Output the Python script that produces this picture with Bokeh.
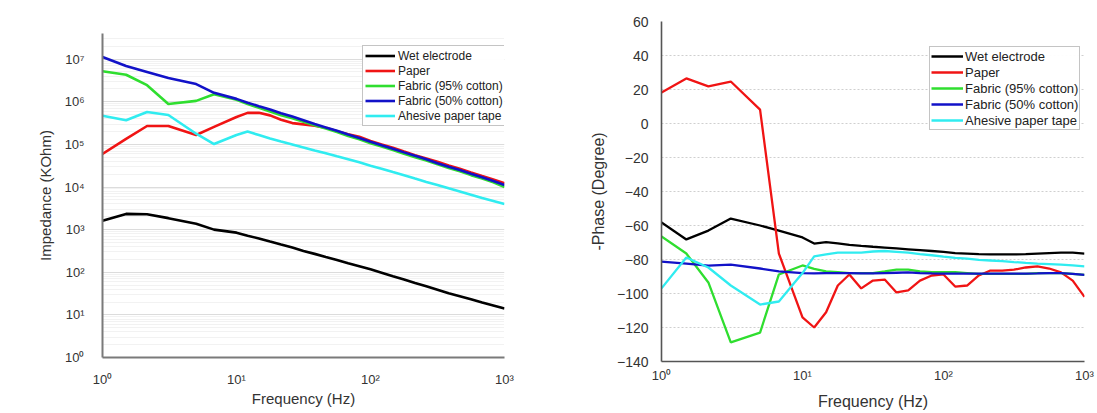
from bokeh.plotting import figure
from bokeh.layouts import row
from bokeh.models import (FixedTicker, CustomJSTickFormatter, Legend, LegendItem,
                          ColumnDataSource, Range1d)
from bokeh.embed import file_html
from bokeh.resources import INLINE

# ---------------- data ----------------
freq_hz = [1, 1.5, 2.15, 3.1, 5, 6.8, 10, 12.1, 14.7, 17.8, 21.5, 26.1, 31.6, 38.3,
           46.4, 56.2, 68.1, 82.5, 100, 121, 147, 178, 215, 261, 316, 383, 464, 562,
           681, 825, 1000]

series_names = ["Wet electrode", "Paper", "Fabric (95% cotton)",
                "Fabric (50% cotton)", "Ahesive paper tape"]

# impedance magnitude (KOhm)
imp_wet = [1620, 2340, 2290, 1860, 1380, 1000, 850, 720, 620, 525, 447, 380, 316, 270,
           229, 195, 162, 138, 117, 98, 81, 68, 56, 47, 39, 32, 27.5, 23.4, 19.5, 16.6, 14.1]
imp_paper = [6.0e4, 1.35e5, 2.7e5, 2.7e5, 1.66e5, 2.57e5, 4.4e5, 5.5e5, 5.5e5, 4.8e5,
             3.8e5, 3.16e5, 2.95e5, 2.75e5, 2.45e5, 2.04e5, 1.74e5, 1.51e5, 1.2e5, 1.0e5,
             8.3e4, 6.8e4, 5.6e4, 4.7e4, 3.9e4, 3.2e4, 2.7e4, 2.2e4, 1.82e4, 1.51e4, 1.23e4]
imp_fab95 = [5.2e6, 4.3e6, 2.45e6, 8.9e5, 1.05e6, 1.5e6, 1.12e6, 8.9e5, 7.2e5, 5.9e5,
             4.8e5, 4.1e5, 3.4e5, 2.8e5, 2.35e5, 1.95e5, 1.58e5, 1.32e5, 1.07e5, 8.9e4,
             7.4e4, 6.0e4, 5.0e4, 4.2e4, 3.4e4, 2.8e4, 2.35e4, 1.9e4, 1.58e4, 1.29e4, 1.0e4]
imp_fab50 = [1.12e7, 6.9e6, 5.0e6, 3.6e6, 2.6e6, 1.62e6, 1.17e6, 9.5e5, 7.9e5, 6.6e5,
             5.4e5, 4.5e5, 3.7e5, 3.0e5, 2.5e5, 2.1e5, 1.7e5, 1.41e5, 1.15e5, 9.5e4,
             7.9e4, 6.5e4, 5.4e4, 4.5e4, 3.6e4, 3.0e4, 2.5e4, 2.04e4, 1.7e4, 1.38e4, 1.12e4]
imp_tape = [4.7e5, 3.7e5, 5.75e5, 4.9e5, 1.78e5, 1.02e5, 1.66e5, 2.0e5, 1.66e5, 1.38e5,
            1.17e5, 1.0e5, 8.5e4, 7.2e4, 6.2e4, 5.25e4, 4.5e4, 3.8e4, 3.16e4, 2.7e4,
            2.24e4, 1.9e4, 1.58e4, 1.32e4, 1.12e4, 9.3e3, 7.9e3, 6.6e3, 5.5e3, 4.7e3, 4.0e3]

# -phase (degree)
ph_wet = [-58.2, -68.2, -63, -55.9, -60, -63, -67, -70.6, -69.8, -70.5, -71.4, -72, -72.5,
          -73, -73.5, -74, -74.5, -75, -75.5, -76.2, -76.5, -76.8, -77, -77, -77, -76.8,
          -76.5, -76.2, -76, -76, -76.5]
ph_paper = [18.2, 26.5, 21.8, 24.7, 8.2, -76.5, -114, -120, -111, -95.3, -88.8, -97, -92.4,
            -91.8, -99.4, -98.2, -92.4, -89.4, -88.8, -95.9, -95.3, -89.4, -86.5, -86.5,
            -86, -84.7, -84.1, -85.3, -87.6, -92.4, -102]
ph_fab95 = [-66.5, -76.5, -93.5, -128.8, -123, -88.8, -83.5, -85.5, -87, -87.5, -88, -88,
            -88, -87, -86, -86, -87, -87.5, -87.5, -87.5, -88, -88.5, -88.5, -88.5, -88.5,
            -88.5, -88, -88, -88, -88.5, -89]
ph_fab50 = [-81.2, -82.4, -83.6, -83, -85.3, -87, -88, -88.2, -88, -88, -88, -88.2, -88.2,
            -88, -87.8, -87.6, -88, -88.2, -88.3, -88.3, -88.3, -88.3, -88.3, -88.3, -88.3,
            -88.3, -88.2, -88, -88, -88.4, -89]
ph_tape = [-97, -78.8, -84.7, -95.3, -106.5, -104.7, -88, -78.2, -77, -76, -76, -75.9,
           -75.3, -75, -75.5, -76, -76.8, -77.5, -78.3, -79, -79.5, -80.2, -80.6, -81,
           -81.5, -82, -82.4, -82.7, -83, -83.5, -84.1]

x_ticks = [1, 10, 100, 1000]
imp_ticks = [1, 10, 100, 1e3, 1e4, 1e5, 1e6, 1e7]
phase_ticks = [-140, -120, -100, -80, -60, -40, -20, 0, 20, 40, 60]

colors = ["#000000", "#f01414", "#2fde2f", "#1212c8", "#30ecf0"]
FONT = "Liberation Sans"

sup_code = """
const sup = {"0":"\u2070","1":"\u00b9","2":"\u00b2","3":"\u00b3","4":"\u2074",
             "5":"\u2075","6":"\u2076","7":"\u2077","8":"\u2078","9":"\u2079","-":"\u207b"};
const e = Math.round(Math.log10(tick));
return "10" + String(e).split("").map(c => sup[c]).join("");
"""

src = ColumnDataSource(dict(f=freq_hz,
                            i0=imp_wet, i1=imp_paper, i2=imp_fab95, i3=imp_fab50, i4=imp_tape,
                            p0=ph_wet, p1=ph_paper, p2=ph_fab95, p3=ph_fab50, p4=ph_tape))


def style_axes(p, tick_size, title_size, axis_color, axis_width):
    for ax in (p.xaxis[0], p.yaxis[0]):
        ax.axis_line_color = axis_color
        ax.axis_line_width = axis_width
        ax.major_tick_line_color = None
        ax.minor_tick_line_color = None
        ax.major_label_text_font = FONT
        ax.major_label_text_font_size = tick_size
        ax.major_label_text_color = "#333333"
        ax.axis_label_text_font = FONT
        ax.axis_label_text_font_size = title_size
        ax.axis_label_text_font_style = "normal"
        ax.axis_label_text_color = "#333333"


# ---------------- left: impedance ----------------
p1 = figure(width=560, height=413, x_axis_type="log", y_axis_type="log",
            x_range=Range1d(1, 1000), y_range=Range1d(1, 4e7),
            output_backend="svg", toolbar_location=None,
            min_border_left=102, min_border_right=56, min_border_top=33,
            min_border_bottom=56, frame_align=False)
p1.outline_line_color = None
minor_imp = [k * 10 ** d for d in range(0, 8) for k in range(2, 10)]
p1.yaxis.ticker = FixedTicker(ticks=imp_ticks, minor_ticks=minor_imp)
p1.xaxis.ticker = FixedTicker(ticks=x_ticks)
p1.xaxis.formatter = CustomJSTickFormatter(code=sup_code)
p1.yaxis.formatter = CustomJSTickFormatter(code=sup_code)
p1.xgrid.grid_line_color = None
p1.ygrid.grid_line_color = "#dcdcdc"
p1.ygrid.minor_grid_line_color = "#e4e4e4"
p1.ygrid.minor_grid_line_dash = "1 1"
p1.xaxis.axis_label = "Frequency (Hz)"
p1.yaxis.axis_label = "Impedance (KOhm)"
style_axes(p1, "13px", "15px", "#7a7a7a", 2)
p1.xaxis.major_label_standoff = 8
p1.yaxis.major_label_standoff = 12
p1.yaxis.axis_label_standoff = 7
p1.xaxis.axis_label_standoff = 0

r1 = []
for k in range(5):
    r1.append(p1.line("f", "i%d" % k, source=src, line_color=colors[k], line_width=2.6))
leg1 = Legend(items=[LegendItem(label=series_names[k], renderers=[r1[k]]) for k in range(5)],
              location=(260, 231))
leg1.label_text_font = FONT
leg1.label_text_font_size = "12px"
leg1.label_text_color = "#222222"
leg1.glyph_width = 30
leg1.glyph_height = 15
leg1.label_height = 15
leg1.label_standoff = 3
leg1.spacing = 0
leg1.padding = 2
leg1.margin = 0
leg1.border_line_color = "#8a8a8a"
leg1.border_line_width = 1
p1.add_layout(leg1)

# ---------------- right: phase ----------------
p2 = figure(width=537, height=413, x_axis_type="log",
            x_range=Range1d(1, 1000), y_range=Range1d(-140, 60),
            output_backend="svg", toolbar_location=None,
            min_border_left=101, min_border_right=13, min_border_top=21,
            min_border_bottom=52, frame_align=False)
p2.outline_line_color = None
p2.xaxis.ticker = FixedTicker(ticks=x_ticks)
p2.xaxis.formatter = CustomJSTickFormatter(code=sup_code)
p2.yaxis.ticker = FixedTicker(ticks=phase_ticks)
p2.xgrid.grid_line_color = None
p2.ygrid.grid_line_color = "#cfcfcf"
p2.ygrid.grid_line_dash = "2 2"
p2.xaxis.axis_label = "Frequency (Hz)"
p2.yaxis.axis_label = "-Phase (Degree)"
style_axes(p2, "14px", "16px", "#555555", 1.6)
p2.xaxis.major_label_text_font_size = "13px"
p2.xaxis.major_label_standoff = 0
p2.yaxis.major_label_standoff = 7
p2.yaxis.axis_label_standoff = 7
p2.xaxis.axis_label_standoff = 7

r2 = []
for k in range(5):
    r2.append(p2.line("f", "p%d" % k, source=src, line_color=colors[k], line_width=2.3))
leg2 = Legend(items=[LegendItem(label=series_names[k], renderers=[r2[k]]) for k in range(5)],
              location=(268, 231))
leg2.label_text_font = FONT
leg2.label_text_font_size = "13px"
leg2.label_text_color = "#222222"
leg2.glyph_width = 32
leg2.glyph_height = 16
leg2.label_height = 16
leg2.label_standoff = 2
leg2.spacing = 0
leg2.padding = 1
leg2.margin = 0
leg2.border_line_color = "#8a8a8a"
leg2.border_line_width = 1
p2.add_layout(leg2)

layout = row(p1, p2)
open("out.html", "w").write(file_html(layout, INLINE))
